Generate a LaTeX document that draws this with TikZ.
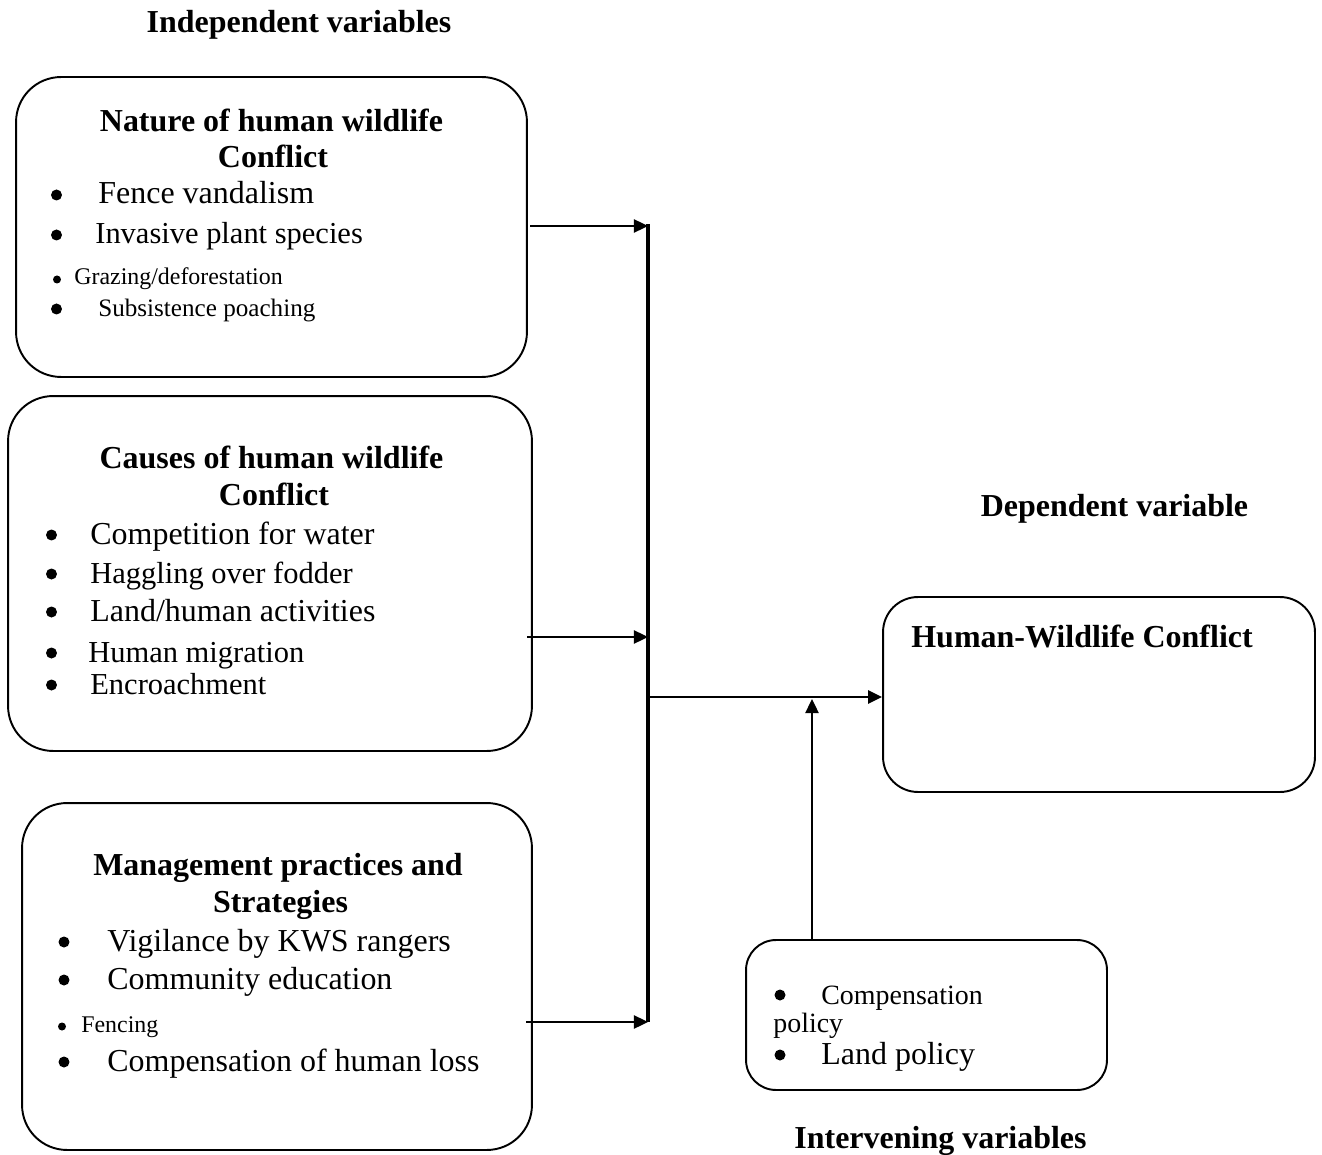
\documentclass[tikz,border=0pt]{standalone}
\usepackage{fontspec}
\setmainfont{Liberation Serif}
\usetikzlibrary{arrows.meta}
\begin{document}
\begin{tikzpicture}[x=0.02cm,y=-0.02cm,
  box/.style={draw,line width=1.1pt,rounded corners=0.9cm,inner sep=0},
  big/.style={font=\fontsize{18.2}{21}\selectfont,inner sep=0},
  bigc/.style={font=\fontsize{17.35}{20}\selectfont,inner sep=0},
  bigb/.style={font=\fontsize{18.2}{21}\selectfont\bfseries,inner sep=0},
  mid/.style={font=\fontsize{15.9}{18}\selectfont,inner sep=0},
  small/.style={font=\fontsize{14.3}{16}\selectfont,inner sep=0},
  smaller/.style={font=\fontsize{13.6}{16}\selectfont,inner sep=0},
  bdot/.style={circle,fill,inner sep=0,minimum size=0.22cm},
  sdot/.style={circle,fill,inner sep=0,minimum size=0.16cm},
  arr/.style={line width=1.1pt,-{Triangle[length=8pt,width=7.5pt]}},
  barline/.style={line width=2.2pt}]
\useasboundingbox (0,0) rectangle (1322,1155);

% headers
\node[bigb,anchor=base] (h1) at (299,33) {Independent variables};
\node[bigb,anchor=base] (h2) at (1114.5,516) {Dependent variable};
\node[bigb,anchor=base] (h3) at (940.5,1148) {Intervening variables};

% boxes
\node[box,minimum width=10.22cm,minimum height=6.0cm] (box1) at (271.5,227) {};
\node[box,minimum width=10.48cm,minimum height=7.1cm] (box2) at (270,573.5) {};
\node[box,minimum width=10.2cm,minimum height=6.94cm] (box3) at (277,976.5) {};
\node[box,rounded corners=0.7cm,minimum width=8.64cm,minimum height=3.9cm] (hwc) at (1099,694.5) {};
\node[box,rounded corners=0.6cm,minimum width=7.22cm,minimum height=3.0cm] (inter) at (926.5,1015) {};

% box 1 text
\node[bigb,anchor=base] (t1a) at (271.5,132) {Nature of human wildlife};
\node[bigb,anchor=base] (t1b) at (273,168) {Conflict};
\node[bdot] (b11) at (56.5,195) {};
\node[big,anchor=base west] (i11) at (98,204) {Fence vandalism};
\node[bdot] (b12) at (56.5,235) {};
\node[bigc,anchor=base west] (i12) at (95,244) {Invasive plant species};
\node[sdot] (b13) at (57,279.5) {};
\node[smaller,anchor=base west] (i13) at (74,285) {Grazing/deforestation};
\node[bdot] (b14) at (56.5,309) {};
\node[small,anchor=base west] (i14) at (98,317) {Subsistence poaching};

% box 2 text
\node[bigb,anchor=base] (t2a) at (271.5,468) {Causes of human wildlife};
\node[bigb,anchor=base] (t2b) at (274,505) {Conflict};
\node[bdot] (b21) at (51.5,535) {};
\node[big,anchor=base west] (i21) at (90,544) {Competition for water};
\node[bdot] (b22) at (51.5,574) {};
\node[bigc,anchor=base west] (i22) at (90,583) {Haggling over fodder};
\node[bdot] (b23) at (51.5,612) {};
\node[big,anchor=base west] (i23) at (90,621) {Land/human activities};
\node[bdot] (b24) at (51.5,653) {};
\node[bigc,anchor=base west] (i24) at (88,662) {Human migration};
\node[bdot] (b25) at (51.5,685) {};
\node[bigc,anchor=base west] (i25) at (90,694) {Encroachment};

% box 3 text
\node[bigb,anchor=base] (t3a) at (278,875) {Management practices and};
\node[bigb,anchor=base] (t3b) at (280.5,912) {Strategies};
\node[bdot] (b31) at (64,942) {};
\node[big,anchor=base west] (i31) at (107,951) {Vigilance by KWS rangers};
\node[bdot] (b32) at (64,980) {};
\node[big,anchor=base west] (i32) at (107,989) {Community education};
\node[sdot] (b33) at (62,1026.5) {};
\node[smaller,anchor=base west] (i33) at (81,1032) {Fencing};
\node[bdot] (b34) at (64,1062) {};
\node[big,anchor=base west] (i34) at (107,1071) {Compensation of human loss};

% dependent box text
\node[bigb,anchor=base west] (thwc) at (911,647) {Human-Wildlife Conflict};

% intervening box text
\node[bdot] (b41) at (780,995) {};
\node[mid,anchor=base west] (i41) at (821,1004) {Compensation};
\node[mid,anchor=base west] (i41b) at (773,1032) {policy};
\node[bdot] (b42) at (780,1055) {};
\node[big,anchor=base west] (i42) at (821,1064) {Land policy};

% connectors
\coordinate (bartop) at (648,224);
\coordinate (barbot) at (648,1022);
\draw[barline] (bartop) -- (barbot);
\coordinate (s1) at (530,226);
\coordinate (s2) at (527,637);
\coordinate (s3) at (526,1022);
\draw[arr] (s1) -- (s1 -| bartop);
\draw[arr] (s2) -- (s2 -| bartop);
\draw[arr] (s3) -- (s3 -| bartop);
\coordinate (m1) at (650,697);
\draw[arr,line width=1.5pt] (m1) -- (m1 -| hwc.west);
\coordinate (u1) at (812,940);
\coordinate (u2) at (812,699);
\draw[arr] (u1) -- (u2);
\end{tikzpicture}
\end{document}
